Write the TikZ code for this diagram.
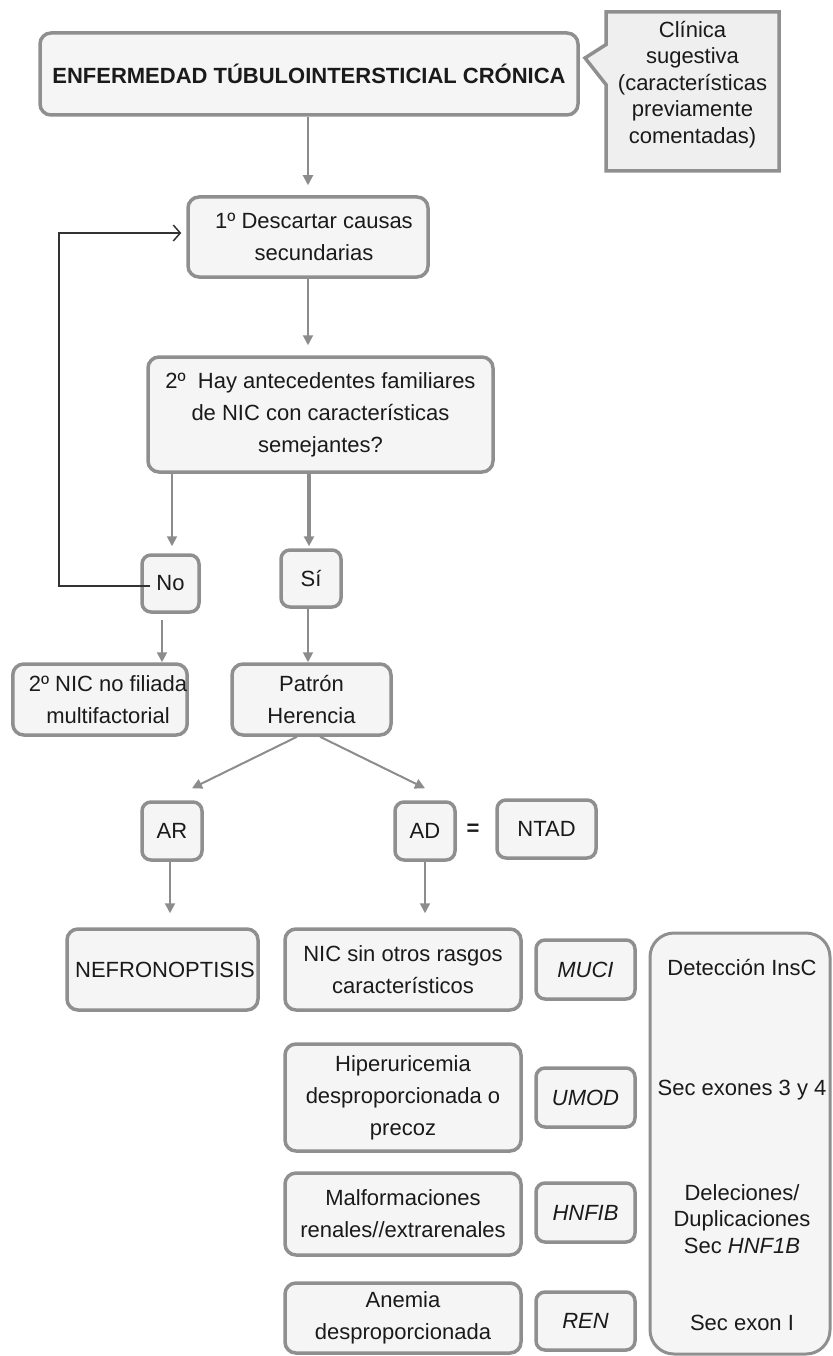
\documentclass[tikz,border=0pt]{standalone}
\usepackage{fontspec}
\setmainfont{Liberation Sans}
\usetikzlibrary{arrows.meta,shapes.callouts}
\definecolor{bordergray}{HTML}{8F8F8F}
\definecolor{boxfill}{HTML}{F5F5F5}
\definecolor{calloutfill}{HTML}{EFEFEF}
\definecolor{linegray}{HTML}{8C8C8C}
\definecolor{txt}{HTML}{1A1A1A}
\definecolor{fbline}{HTML}{333333}
\begin{document}
\begin{tikzpicture}[x=1pt,y=-1pt,
  box/.style={draw=bordergray, line width=3.5pt, fill=boxfill, rounded corners=11pt,
    inner sep=0pt, align=center, text=txt, font=\fontsize{22}{32}\selectfont},
  tight/.style={font=\fontsize{22}{26.5}\selectfont},
  plain/.style={inner sep=0pt, align=center, text=txt, font=\fontsize{22}{26.5}\selectfont},
  arr/.style={draw=linegray, line width=2pt, -{Triangle[length=10pt,width=10pt]}},
  sarr/.style={arr, line width=3.5pt},
  fbarr/.style={draw=fbline, line width=1.5pt, -{Straight Barb[length=7pt,width=16pt]}}
]
\useasboundingbox (0,0) rectangle (832,1356);

% top
\node[box, font=\fontsize{22}{32}\selectfont\bfseries, minimum width=538pt, minimum height=82pt] (main) at (309,74)
  {ENFERMEDAD TÚBULOINTERSTICIAL CRÓNICA};
\node[rectangle callout, callout absolute pointer={(585,58)}, callout pointer width=40pt,
  draw=bordergray, line width=3.5pt, fill=calloutfill, inner sep=0pt, align=center, text=txt,
  font=\fontsize{22}{26.5}\selectfont, minimum width=173pt, minimum height=159pt] (clin) at (692.5,91.5)
  {Clínica\\sugestiva\\(características\\previamente\\comentadas)\\[-8pt]};

\node[box, minimum width=240pt, minimum height=80pt] (b1) at (308,237)
  {\hspace*{12pt}1º Descartar causas\\\hspace*{12pt}secundarias};
\node[box, minimum width=345pt, minimum height=115pt] (b2) at (320.5,414.5)
  {2º\ \ Hay antecedentes familiares\\de NIC con características\\semejantes?};

\node[box, rounded corners=9pt, minimum width=57pt, minimum height=57pt] (no) at (170.5,583.5) {No};
\node[box, rounded corners=9pt, minimum width=60pt, minimum height=57pt] (si) at (311,578.5) {Sí};

\node[box, minimum width=174pt, minimum height=71pt] (nicnf) at (100,699.5)
  {\hspace*{16pt}2º NIC no filiada\\\hspace*{16pt}multifactorial};
\node[box, minimum width=159pt, minimum height=71pt] (pat) at (311.5,699.5) {Patrón\\Herencia};

\node[box, rounded corners=9pt, minimum width=60pt, minimum height=58pt] (ar) at (172,831) {AR};
\node[box, rounded corners=9pt, minimum width=60pt, minimum height=58pt] (ad) at (425,831) {AD};
\node[inner sep=0pt, text=txt, font=\fontsize{22}{26}\selectfont\bfseries] (eq) at (473,830) {=};
\node[box, rounded corners=9pt, minimum width=99pt, minimum height=58pt] (ntad) at (546.5,829) {NTAD};

\node[box, minimum width=191pt, minimum height=81pt] (nef) at (162.5,969.5) {\hspace*{5pt}NEFRONOPTISIS};

% AD column
\node[box, minimum width=236pt, minimum height=81pt] (nic) at (403,969.5)
  {NIC sin otros rasgos\\característicos};
\node[box, minimum width=236pt, minimum height=107pt] (hip) at (403,1097.5)
  {Hiperuricemia\\desproporcionada o\\precoz};
\node[box, minimum width=236pt, minimum height=82pt] (malf) at (403,1214)
  {Malformaciones\\renales//extrarenales};
\node[box, minimum width=236pt, minimum height=70pt] (anem) at (403,1318)
  {Anemia\\desproporcionada};

\node[box, rounded corners=9pt, minimum width=99pt, minimum height=59pt] (muci) at (585.5,969.5) {\itshape MUCI};
\node[box, rounded corners=9pt, minimum width=99pt, minimum height=59pt] (umod) at (585.5,1097.5) {\itshape UMOD};
\node[box, rounded corners=9pt, minimum width=99pt, minimum height=59pt] (hnfib) at (585.5,1212.5) {\itshape HNFIB};
\node[box, rounded corners=9pt, minimum width=99pt, minimum height=58pt] (ren) at (585.5,1321) {\itshape REN};

\node[box, rounded corners=24pt, line width=3pt, minimum width=180pt, minimum height=421pt] (big) at (740,1143.5) {};
\node[plain] (t1) at (742,967) {Detección InsC};
\node[plain] (t2) at (742,1090) {Sec exones 3 y 4};
\node[plain] (t3) at (742,1219) {Deleciones/\\Duplicaciones\\Sec \textit{HNF1B}};
\node[plain] (t4) at (742,1323) {Sec exon I};

% connectors
\draw[arr, shorten >=10pt] (main.south -| b1.north) -- (b1.north);
\draw[arr, shorten >=10pt] (b1.south) -- (b1.south |- b2.north);
\draw[arr, shorten >=7pt] ([xshift=1.5pt]no.north |- b2.south) -- ([xshift=1.5pt]no.north);
\draw[sarr, shorten >=2pt] ([xshift=-2pt]si.north |- b2.south) -- ([xshift=-2pt]si.north);
\draw[arr, shorten <=6pt] ([xshift=-8.5pt]no.south) -- ([xshift=-8.5pt]no.south |- nicnf.north);
\draw[arr] ([xshift=-3pt]si.south) -- ([xshift=-3pt]si.south |- pat.north);
\draw[arr] ([xshift=-14.5pt]pat.south) -- ([xshift=20pt,yshift=12pt]ar.north);
\draw[arr] ([xshift=8.5pt]pat.south) -- ([yshift=12pt]ad.north);
\draw[arr, shorten >=14pt] ([xshift=-2pt]ar.south) -- ([xshift=-2pt]ar.south |- nef.north);
\draw[arr, shorten >=14pt] (ad.south) -- (ad.south |- nic.north);

\coordinate (fb) at (59,586);
\draw[fbarr, shorten >=5pt] ([xshift=10pt,yshift=-2.5pt]no.west) -- (fb) |- ([yshift=4pt]b1.west);
\end{tikzpicture}
\end{document}
